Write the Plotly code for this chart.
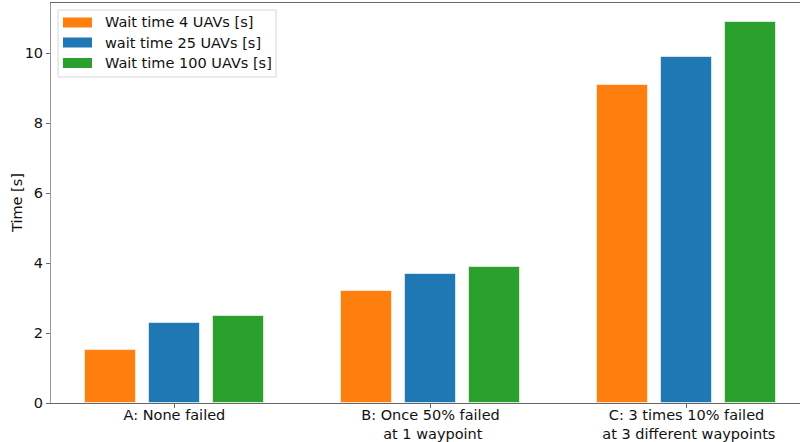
import plotly.graph_objects as go

# Scenario categories and measured wait times per swarm size
categories = ["A: None failed",
              "B: Once 50% failed<br> at 1 waypoint",
              "C: 3 times 10% failed<br> at 3 different waypoints"]
series_names = ["Wait time 4 UAVs [s]", "wait time 25 UAVs [s]", "Wait time 100 UAVs [s]"]
wait_4 = [1.52, 3.2, 9.08]
wait_25 = [2.3, 3.7, 9.88]
wait_100 = [2.5, 3.9, 10.89]
y_ticks = [0, 2, 4, 6, 8, 10]
y_title = "Time [s]"

colors = ["#ff7f0e", "#1f77b4", "#2ca02c"]
offsets = [-0.25, 0.0, 0.25]
bar_width = 0.2

W, H = 800, 442
L, R, T, B = 51, 0, 3, 39
pw, ph = W - L - R, H - T - B

fig = go.Figure()
xpos = list(range(len(categories)))
for name, vals, col, off in zip(series_names, [wait_4, wait_25, wait_100], colors, offsets):
    fig.add_trace(go.Bar(
        x=[p + off for p in xpos], y=vals, name=name, width=bar_width,
        marker=dict(color=col, line=dict(color="rgba(255,255,255,0.6)", width=1)),
        showlegend=False,
    ))

font = dict(family="DejaVu Sans", size=14.5, color="#111111")


def px_x(px):
    return (px - L) / pw


def px_y(py):
    return (H - B - py) / ph


# Legend drawn as a framed box with wide colour patches
shapes = [dict(type="rect", xref="paper", yref="paper",
               x0=px_x(58), x1=px_x(276), y0=px_y(77), y1=px_y(10),
               line=dict(color="#d6d6d6", width=1), fillcolor="rgba(255,255,255,0.8)", layer="above")]
annotations = []
row_centres = [22.5, 42.5, 63]
for name, col, cy in zip(series_names, colors, row_centres):
    shapes.append(dict(type="rect", xref="paper", yref="paper",
                       x0=px_x(63), x1=px_x(92), y0=px_y(cy + 5), y1=px_y(cy - 5),
                       line=dict(width=0), fillcolor=col, layer="above"))
    annotations.append(dict(xref="paper", yref="paper", x=px_x(103), y=px_y(cy),
                            text=name, showarrow=False, xanchor="left", yanchor="middle",
                            font=font))

# Vertical axis title
annotations.append(dict(xref="paper", yref="paper", x=px_x(17), y=px_y(203),
                        text=y_title, textangle=-90, showarrow=False,
                        xanchor="center", yanchor="middle", font=font))

fig.update_layout(
    width=W, height=H,
    margin=dict(l=L, r=R, t=T, b=B, autoexpand=False),
    plot_bgcolor="white", paper_bgcolor="white",
    font=font,
    bargap=0, barmode="overlay",
    shapes=shapes, annotations=annotations,
    xaxis=dict(
        range=[-0.482, 2.443], tickmode="array", tickvals=xpos, ticktext=categories,
        showgrid=False, zeroline=False, showline=True, linecolor="#666666", linewidth=1,
        mirror=True, ticks="outside", ticklen=4, tickcolor="#666666", tickfont=font,
        ticklabelstandoff=-5, automargin=False,
    ),
    yaxis=dict(
        range=[0, 11.43], tickmode="array", tickvals=y_ticks,
        showgrid=False, zeroline=False, showline=True, linecolor="#999999", linewidth=1,
        ticks="outside", ticklen=4, tickcolor="#666666", tickfont=font,
        automargin=False,
    ),
)

fig.write_html("out.html")
